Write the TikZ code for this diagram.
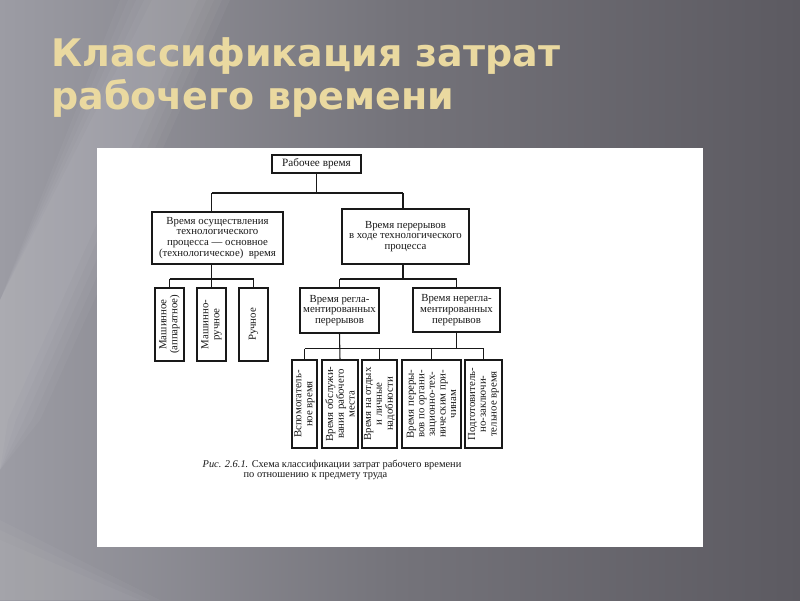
\documentclass[tikz,border=0pt]{standalone}
\usepackage{fontspec}
\setmainfont{Liberation Serif}
\newfontfamily\titlefont{DejaVu Sans}
\definecolor{bgL}{RGB}{156,156,164}
\definecolor{bgM}{RGB}{116,115,122}
\definecolor{bgR}{RGB}{92,90,97}
\definecolor{titlegold}{RGB}{234,217,160}
\definecolor{ink}{RGB}{25,25,25}
\begin{document}
\begin{tikzpicture}[x=1pt,y=-1pt,
  tbox/.style={draw=ink, line width=1.1pt, inner sep=0pt, align=center, text=ink,
    font=\fontsize{10.8}{10.8}\selectfont},
  vbox/.style={tbox, rotate=90},
  conn/.style={draw=ink, line width=1.05pt},
  ttl/.style={anchor=base west, inner sep=0pt, text=titlegold,
    font=\titlefont\bfseries\fontsize{38}{40}\selectfont},
  captxt/.style={inner sep=0pt, text=ink, font=\fontsize{10.4}{11}\selectfont}]
\useasboundingbox (0,0) rectangle (800,600);
% background
\shade[left color=bgL, right color=bgR, middle color=bgM] (0,0) rectangle (800,600);
\foreach \o in {0,8,16,24,32}{
  \fill[white, opacity=0.035] (120+\o,0) -- (230-\o,0) -- (40-\o,420) -- (0,470) -- (0,300) -- cycle;
}
\foreach \o in {0,10,20}{
  \fill[white, opacity=0.03] (0,520+\o) -- (160-\o,600) -- (0,600) -- cycle;
}
% title
\node[ttl] (t1) at (51,66) {Классификация затрат};
\node[ttl] (t2) at (51,109) {рабочего времени};
% white panel
\fill[white] (97,148) rectangle (703,547);
% boxes
\node[tbox, minimum width=89, minimum height=18, font=\fontsize{11.2}{11.2}\selectfont] (root) at (316.5,164) {Рабочее время};
\node[tbox, minimum width=131, minimum height=52] (tech) at (217.5,238) {Время осуществления\\технологического\\процесса — основное\\(технологическое)\ \ время};
\node[tbox, minimum width=127, minimum height=55] (brk) at (405.5,236.5) {Время перерывов\\в ходе технологического\\процесса};
\node[vbox, minimum width=73, minimum height=29] (m1) at (169.5,324.5) {Машинное\\(аппаратное)};
\node[vbox, minimum width=73, minimum height=29] (m2) at (211.5,324.5) {Машинно-\\ручное};
\node[vbox, minimum width=73, minimum height=29] (m3) at (253.5,324.5) {Ручное};
\node[tbox, minimum width=79, minimum height=45] (reg) at (339.5,310.5) {Время регла-\\ментированных\\перерывов};
\node[tbox, minimum width=87, minimum height=44] (nreg) at (456.5,310) {Время нерегла-\\ментированных\\перерывов};
\node[vbox, minimum width=88, minimum height=25] (b1) at (304.5,404) {Вспомогатель-\\ное время};
\node[vbox, minimum width=88, minimum height=36] (b2) at (340,404) {Время обслужи-\\вания рабочего\\места};
\node[vbox, minimum width=88, minimum height=35] (b3) at (379.5,404) {Время на отдых\\и личные\\надобности};
\node[vbox, minimum width=88, minimum height=59, font=\fontsize{10.8}{10.6}\selectfont] (b4) at (431.5,404) {Время переры-\\вов по органи-\\зационно-тех-\\ническим при-\\чинам};
\node[vbox, minimum width=88, minimum height=37] (b5) at (483.5,404) {Подготовитель-\\но-заключи-\\тельное время};
% caption
\node[captxt] (cap1) at (332,465) {\textit{Рис. 2.6.1.} Схема классификации затрат рабочего времени};
\node[captxt] (cap2) at (315.5,476.5) {по отношению к предмету труда};
% junction coordinates
\coordinate (ht) at (0,193);
\coordinate (hm) at (0,279);
\coordinate (hb) at (0,348.5);
\coordinate (rx) at (403,0);
% connectors
\draw[conn] (root.south) -- (root.south |- ht);
\draw[conn] (m2.east |- ht) -- (rx |- ht);
\draw[conn] (m2.east |- ht) -- (m2.east |- tech.north);
\draw[conn] (rx |- ht) -- (rx |- brk.north);
\draw[conn] (m2.east |- tech.south) -- (m2.east);
\draw[conn] (m1.east |- hm) -- (m3.east |- hm);
\draw[conn] (m1.east |- hm) -- (m1.east);
\draw[conn] (m3.east |- hm) -- (m3.east);
\draw[conn] (rx |- brk.south) -- (rx |- hm);
\draw[conn] (reg.north |- hm) -- (nreg.north |- hm);
\draw[conn] (reg.north |- hm) -- (reg.north);
\draw[conn] (nreg.north |- hm) -- (nreg.north);
\draw[conn] (reg.south) -- (b2.east);
\draw[conn] (nreg.south) -- (nreg.south |- hb);
\draw[conn] (b1.east |- hb) -- (b5.east |- hb);
\draw[conn] (b1.east |- hb) -- (b1.east);
\draw[conn] (b3.east |- hb) -- (b3.east);
\draw[conn] (b4.east |- hb) -- (b4.east);
\draw[conn] (b5.east |- hb) -- (b5.east);
\end{tikzpicture}
\end{document}
